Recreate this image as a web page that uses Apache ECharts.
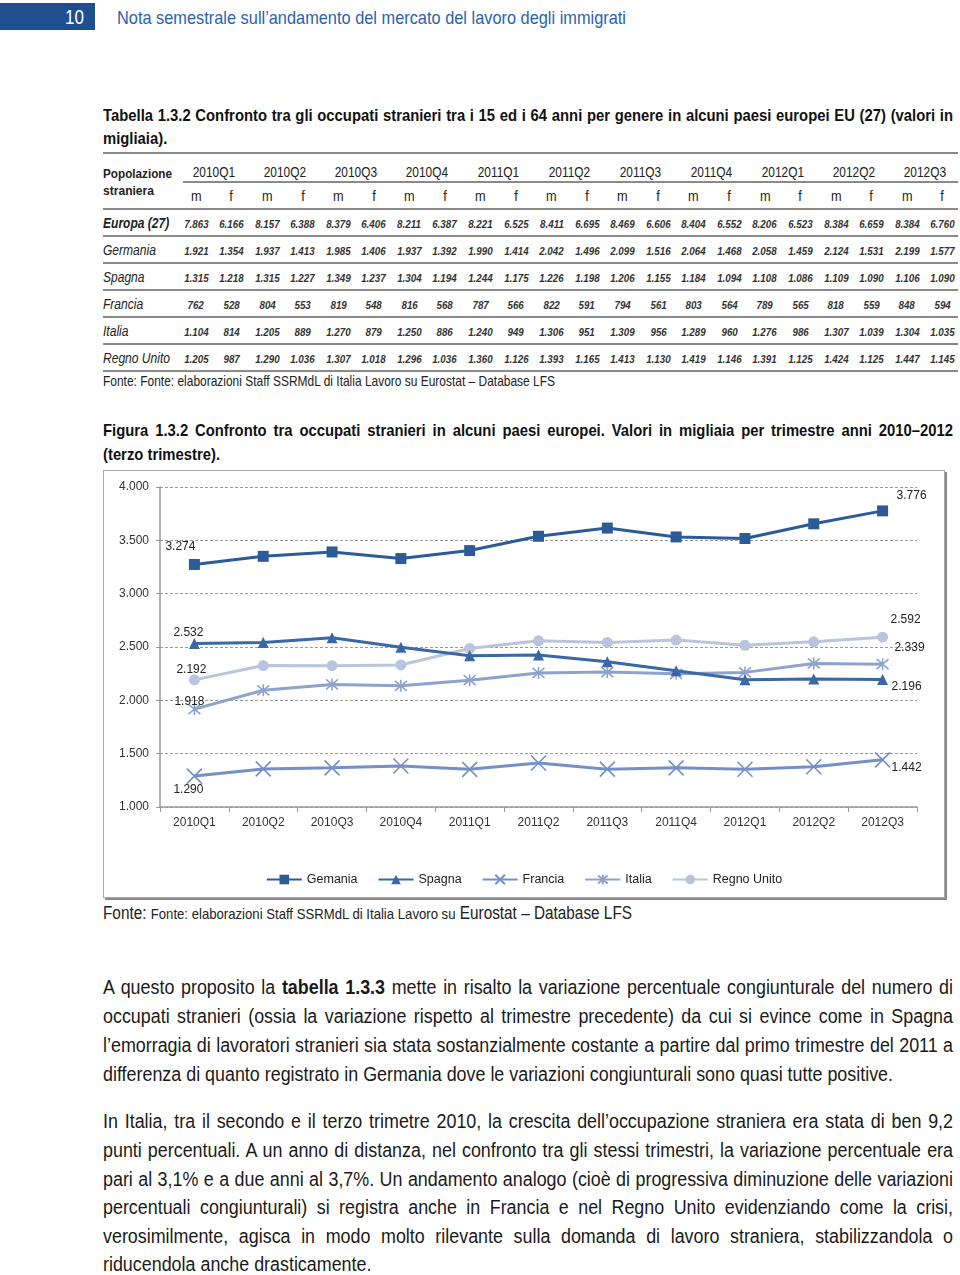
<!DOCTYPE html>
<html><head><meta charset="utf-8">
<script src="https://cdn.jsdelivr.net/npm/echarts@6/dist/echarts.min.js"></script>
<style>
body{margin:0;width:960px;height:1275px;position:relative;background:#fff;font-family:"Liberation Sans",Arial,sans-serif;color:#111;overflow:hidden}
#chart{position:absolute;left:103px;top:470px;width:840px;height:426px;border:1px solid #aaa;box-shadow:2px 2px 0 #8a8a8a;background:#fff}
</style></head>
<body>
<div id="page"></div>
<div id="chart"></div>
<script>
// ---- chart data ----
const categories = ["2010Q1","2010Q2","2010Q3","2010Q4","2011Q1","2011Q2","2011Q3","2011Q4","2012Q1","2012Q2","2012Q3"];
const germania   = [3274,3350,3391,3329,3404,3538,3615,3532,3517,3655,3776];
const spagna     = [2532,2542,2586,2498,2419,2424,2361,2278,2194,2199,2196];
const francia    = [1290,1357,1367,1384,1353,1413,1355,1367,1354,1377,1442];
const italia     = [1918,2094,2149,2136,2189,2257,2265,2249,2262,2346,2339];
const regnoUnito = [2192,2326,2325,2332,2486,2558,2543,2565,2516,2549,2592];
const seriesNames = ["Gemania","Spagna","Francia","Italia","Regno Unito"];
const yTicks = [1000,1500,2000,2500,3000,3500,4000];

// ---- table data ----
const tableQuarters = ["2010Q1","2010Q2","2010Q3","2010Q4","2011Q1","2011Q2","2011Q3","2011Q4","2012Q1","2012Q2","2012Q3"];
const tableCountries = ["Europa (27)","Germania","Spagna","Francia","Italia","Regno Unito"];
const tabEuropa   = ["7.863","6.166","8.157","6.388","8.379","6.406","8.211","6.387","8.221","6.525","8.411","6.695","8.469","6.606","8.404","6.552","8.206","6.523","8.384","6.659","8.384","6.760"];
const tabGermania = ["1.921","1.354","1.937","1.413","1.985","1.406","1.937","1.392","1.990","1.414","2.042","1.496","2.099","1.516","2.064","1.468","2.058","1.459","2.124","1.531","2.199","1.577"];
const tabSpagna   = ["1.315","1.218","1.315","1.227","1.349","1.237","1.304","1.194","1.244","1.175","1.226","1.198","1.206","1.155","1.184","1.094","1.108","1.086","1.109","1.090","1.106","1.090"];
const tabFrancia  = ["762","528","804","553","819","548","816","568","787","566","822","591","794","561","803","564","789","565","818","559","848","594"];
const tabItalia   = ["1.104","814","1.205","889","1.270","879","1.250","886","1.240","949","1.306","951","1.309","956","1.289","960","1.276","986","1.307","1.039","1.304","1.035"];
const tabRegno    = ["1.205","987","1.290","1.036","1.307","1.018","1.296","1.036","1.360","1.126","1.393","1.165","1.413","1.130","1.419","1.146","1.391","1.125","1.424","1.125","1.447","1.145"];
const tableRows = [tabEuropa,tabGermania,tabSpagna,tabFrancia,tabItalia,tabRegno];

// ---- page builder ----
const page = document.getElementById('page');
function txt(html, o){
  const d=document.createElement('div');
  d.innerHTML=html;
  const size=o.size;
  Object.assign(d.style,{position:'absolute',whiteSpace:'nowrap',fontSize:size+'px',lineHeight:Math.round(size*1.2)+'px',
    fontWeight:o.b?'bold':'normal',fontStyle:o.i?'italic':'normal',color:o.c||'#111',left:'0px',top:(o.y-Math.round(size*1.2)/2)+'px'});
  page.appendChild(d);
  const w=d.getBoundingClientRect().width;
  let s=o.scale||1;
  if(o.fit) s=o.fit/w;
  if(o.jw){ const n=(d.textContent.match(/ /g)||[]).length; if(n) d.style.wordSpacing=((o.jw/s - w)/n)+'px'; }
  const center=o.align==='center';
  d.style.transformOrigin=center?'center center':'left center';
  d.style.transform='scaleX('+s+')';
  d.style.left=(center? o.x-w/2 : o.x)+'px';
  return s;
}
function box(x,y,w,h,bg){ const d=document.createElement('div'); Object.assign(d.style,{position:'absolute',left:x+'px',top:y+'px',width:w+'px',height:h+'px',background:bg}); page.appendChild(d); }
function hline(x1,x2,y){ box(x1,y-1,x2-x1,2,'#8a8a8a'); }

// header
box(0,3,95,27,'#1f4f8f');
txt('10',{x:65,y:17,size:20,c:'#fff',scale:0.85});
txt('Nota semestrale sull’andamento del mercato del lavoro degli immigrati',{x:117,y:17,size:19,c:'#2a62b0',fit:509});

// captions (bold, narrow)
const capScale = txt('(terzo trimestre).',{x:103,y:455,size:17,b:true,fit:117});
txt('Figura 1.3.2 Confronto tra occupati stranieri in alcuni paesi europei. Valori in migliaia per trimestre anni 2010–2012',{x:103,y:431,size:17,b:true,scale:capScale,jw:850});
txt('Tabella 1.3.2 Confronto tra gli occupati stranieri tra i 15 ed i 64 anni per genere in alcuni paesi europei EU (27) (valori in',{x:103,y:116,size:17,b:true,scale:capScale,jw:850});
txt('migliaia).',{x:103,y:139,size:17,b:true,scale:capScale});

// table
const colX0 = 196, colW = 35.55;
hline(103,958,153);
txt('Popolazione',{x:103,y:174,size:13.5,b:true,c:'#222',fit:69});
txt('straniera',{x:103,y:191,size:13.5,b:true,c:'#222',fit:51});
tableQuarters.forEach((q,k)=>{
  const cx = colX0 + colW*(2*k) + colW/2;
  txt(q,{x:cx,y:172,size:14,c:'#222',scale:0.85,align:'center'});
  txt('m',{x:colX0+colW*2*k,y:196,size:15,c:'#222',scale:0.85,align:'center'});
  txt('f',{x:colX0+colW*(2*k+1),y:196,size:15,c:'#222',scale:0.85,align:'center'});
});
hline(183,958,182);
hline(103,958,209);
tableCountries.forEach((c,i)=>{
  const y = 223 + 27*i;
  txt(c,{x:103,y:y,size:14,i:true,b:i===0,c:'#222',scale:0.86});
  tableRows[i].forEach((v,j)=>{
    txt(v,{x:colX0+colW*j,y:y+1,size:11.5,i:true,b:true,c:'#333',scale:0.85,align:'center'});
  });
  hline(103,958,236+27*i);
});
txt('Fonte: Fonte: elaborazioni Staff SSRMdL di Italia Lavoro su Eurostat – Database LFS',{x:103,y:381,size:15,c:'#222',fit:452});

// figure source
txt('Fonte: <span style="font-size:15px">Fonte: elaborazioni Staff SSRMdL di Italia Lavoro su</span> Eurostat – Database LFS',{x:103,y:913,size:17.5,c:'#222',fit:529});

// paragraphs
const p1 = [
 'A questo proposito la <b>tabella 1.3.3</b> mette in risalto la variazione percentuale congiunturale del numero di',
 'occupati stranieri (ossia la variazione rispetto al trimestre precedente) da cui si evince come in Spagna',
 'l’emorragia di lavoratori stranieri sia stata sostanzialmente costante a partire dal primo trimestre del 2011 a',
 'differenza di quanto registrato in Germania dove le variazioni congiunturali sono quasi tutte positive.'];
const p2 = [
 'In Italia, tra il secondo e il terzo trimetre 2010, la crescita dell’occupazione straniera era stata di ben 9,2',
 'punti percentuali. A un anno di distanza, nel confronto tra gli stessi trimestri, la variazione percentuale era',
 'pari al 3,1% e a due anni al 3,7%. Un andamento analogo (cioè di progressiva diminuzione delle variazioni',
 'percentuali congiunturali) si registra anche in Francia e nel Regno Unito evidenziando come la crisi,',
 'verosimilmente, agisca in modo molto rilevante sulla domanda di lavoro straniera, stabilizzandola o',
 'riducendola anche drasticamente.'];
const p1y=[987,1016,1045,1074], p2y=[1121,1150,1179,1207,1236,1264];
const pScale = txt(p1[3],{x:103,y:p1y[3],size:20,c:'#1a1a1a',fit:790});
for(let i=0;i<3;i++) txt(p1[i],{x:103,y:p1y[i],size:20,c:'#1a1a1a',scale:pScale,jw:850});
for(let i=0;i<5;i++) txt(p2[i],{x:103,y:p2y[i],size:20,c:'#1a1a1a',scale:pScale,jw:850});
txt(p2[5],{x:103,y:p2y[5],size:20,c:'#1a1a1a',scale:pScale});

// ---- chart ----
const FONT = '"Liberation Sans",Arial,sans-serif';
function fmt(v){ const s=String(Math.round(v)); return s.length>3 ? s.slice(0,s.length-3)+'.'+s.slice(-3) : s; }
function withLabels(arr, firstOff, lastOff){
  return arr.map((v,i)=>{
    if(i===0 || i===arr.length-1){
      return {value:v,label:{show:true,position:'inside',offset:i===0?firstOff:lastOff,formatter:p=>fmt(p.value),color:'#222',fontSize:12,fontFamily:FONT}};
    }
    return v;
  });
}
const xPath = 'path://M0,0L10,10M10,0L0,10';
const astPath = 'path://M0,0L10,10M10,0L0,10M5,-1L5,11';
const seriesData = [germania,spagna,francia,italia,regnoUnito];
const colors = ['#2c5c98','#3a67a6','#7391c4','#8da3cc','#b9c4dd'];
const symbols = ['rect','triangle',xPath,astPath,'circle'];
const symSizes = [11,11,15,12,11];
const firstOffs = [[-14,-18],[-6,-11],[-6,14],[-5,-7],[-3,-10]];
const lastOffs  = [[29,-15],[24,7],[24,8],[27,-16],[23,-17]];

const chart = echarts.init(document.getElementById('chart'),null,{renderer:'canvas',width:840,height:426});
chart.setOption({
  animation:false,
  textStyle:{fontFamily:FONT},
  grid:{left:56,top:16,right:27,bottom:90,containLabel:false},
  legend:{
    data:seriesNames, left:'center', top:397, itemWidth:35, itemHeight:12, itemGap:20,
    textStyle:{fontSize:12.5,color:'#222',fontFamily:FONT}
  },
  xAxis:{
    type:'category', data:categories, boundaryGap:true,
    axisLine:{lineStyle:{color:'#999',width:1.5}},
    axisTick:{show:true,length:5,lineStyle:{color:'#999'}},
    axisLabel:{color:'#333',fontSize:12,margin:10,fontFamily:FONT}
  },
  yAxis:{
    type:'value', min:yTicks[0], max:yTicks[yTicks.length-1], interval:500,
    axisLine:{show:true,lineStyle:{color:'#999',width:1.5}},
    axisTick:{show:true,length:4,lineStyle:{color:'#999'}},
    splitLine:{show:true,lineStyle:{color:'#999',type:[3,2],width:1}},
    axisLabel:{color:'#333',fontSize:12,margin:11,fontFamily:FONT,formatter:v=>fmt(v)}
  },
  series: seriesNames.map((n,i)=>({
    name:n, type:'line', data:withLabels(seriesData[i],firstOffs[i],lastOffs[i]),
    symbol:symbols[i], symbolSize:symSizes[i], showAllSymbol:true,
    lineStyle:{color:colors[i],width:3},
    itemStyle:{color:colors[i],borderColor:colors[i],borderWidth:(i===2||i===3)?1.6:0},
    z: 5-i
  }))
});
</script>
</body></html>
